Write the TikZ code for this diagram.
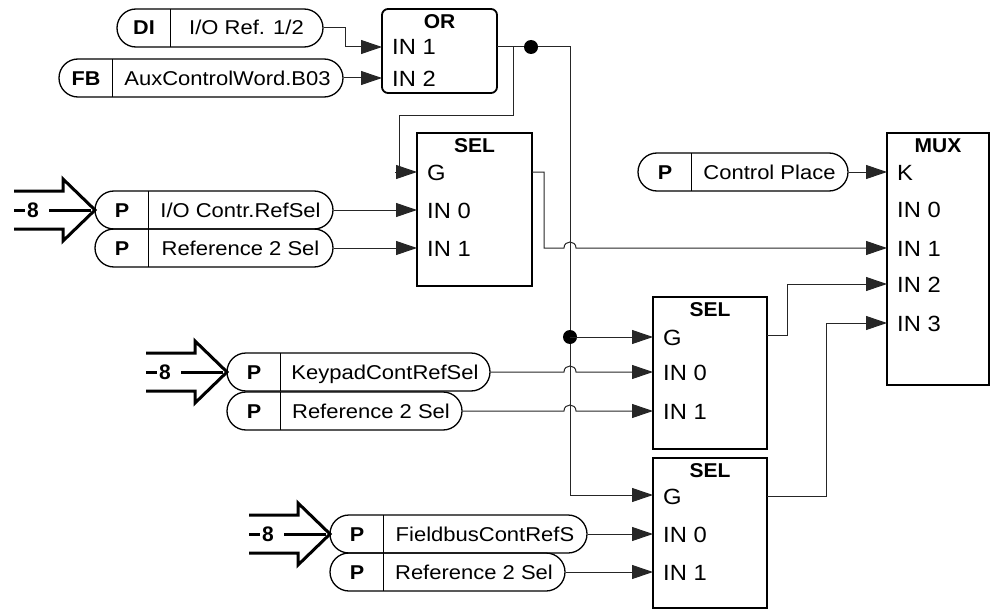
\documentclass[tikz,border=0pt]{standalone}
\usepackage{fontspec}
\setmainfont{Liberation Sans}
\usetikzlibrary{arrows.meta}
\newcommand{\pillnode}[6]{% name, left, right, y, tag, text
  \node[pillb, minimum width={(#3-#2)*1pt}] (#1) at ({(#2+#3)/2},#4) {};
  \draw[pilldiv] ({#2+53},{#4-19}) -- ({#2+53},{#4+19});
  \node[ptag] (#1-tag) at ({#2+27},{#4+7}) {#5};
  \node[ptxt] (#1-txt) at ({(#2+53+#3)/2},{#4+7}) {#6};
}
\newcommand{\busarrow}[3]{% name, tip x, tip y
  \draw[hollow] ({#2-81},{#3-19}) -- ({#2-32},{#3-19}) -- ({#2-32},{#3-31}) -- (#2,#3)
     -- ({#2-32},{#3+31}) -- ({#2-32},{#3+19}) -- ({#2-81},{#3+19});
  \node[eight] (#1) at ({#2-62},#3) {8};
  \draw[hollowin] ({#2-81},#3) -- ({#2-70},#3);
  \draw[hollowin] ({#2-46},#3) -- ({#2-4},#3);
}
\begin{document}
\begin{tikzpicture}[x=1pt,y=-1pt,
  wire/.style={line width=1pt, black!85},
  arr/.style={wire, -{Triangle[length=21pt,width=14pt]}},
  blk/.style={draw, line width=1.8pt, inner sep=0, fill=white},
  pillb/.style={draw, line width=1.3pt, rounded corners=19pt, inner sep=0, minimum height=38pt},
  pilldiv/.style={line width=1pt},
  lbl/.style={inner sep=0, anchor=base west, font=\fontsize{22}{22}\selectfont, xscale=1.08},
  ttl/.style={inner sep=0, anchor=base, font=\bfseries\fontsize{20}{20}\selectfont, xscale=1.05},
  ptxt/.style={inner sep=0, anchor=base, font=\fontsize{20}{20}\selectfont, xscale=1.1},
  ptag/.style={inner sep=0, anchor=base, font=\bfseries\fontsize{20}{20}\selectfont, xscale=1.08},
  hollow/.style={line width=3pt, line join=miter},
  hollowin/.style={line width=3pt},
  eight/.style={inner sep=0, font=\bfseries\fontsize{21}{21}\selectfont},
  dotn/.style={circle, fill=black, inner sep=0, minimum size=14pt}
]
\useasboundingbox (0,0) rectangle (991,610);

% ---------- blocks ----------
\node[blk, rounded corners=6pt, minimum width=115pt, minimum height=84pt] (or) at (439.5,51) {};
\node[ttl] (or-t) at (439.5,29) {OR};
\node[lbl] (or-l1) at (392,55) {IN 1};
\node[lbl] (or-l2) at (392,86) {IN 2};
\coordinate (or-1) at (382,47);
\coordinate (or-2) at (382,78);
\coordinate (or-out) at (497,47);

\node[blk, minimum width=115pt, minimum height=153pt] (sel1) at (474.5,209.5) {};
\node[ttl] (sel1-t) at (474.5,152) {SEL};
\node[lbl] (sel1-lg) at (427,180) {G};
\node[lbl] (sel1-l0) at (427,218) {IN 0};
\node[lbl] (sel1-l1) at (427,256) {IN 1};
\coordinate (sel1-G) at (417,172);
\coordinate (sel1-0) at (417,210);
\coordinate (sel1-1) at (417,248);
\coordinate (sel1-out) at (532,172);

\node[blk, minimum width=114pt, minimum height=152pt] (sel2) at (710,373) {};
\node[ttl] (sel2-t) at (710,316) {SEL};
\node[lbl] (sel2-lg) at (663,345) {G};
\node[lbl] (sel2-l0) at (663,380) {IN 0};
\node[lbl] (sel2-l1) at (663,419) {IN 1};
\coordinate (sel2-G) at (653,337);
\coordinate (sel2-0) at (653,372);
\coordinate (sel2-1) at (653,411);
\coordinate (sel2-out) at (767,335);

\node[blk, minimum width=114pt, minimum height=150pt] (sel3) at (710,533) {};
\node[ttl] (sel3-t) at (710,477) {SEL};
\node[lbl] (sel3-lg) at (663,504) {G};
\node[lbl] (sel3-l0) at (663,542) {IN 0};
\node[lbl] (sel3-l1) at (663,580) {IN 1};
\coordinate (sel3-G) at (653,495);
\coordinate (sel3-0) at (653,534);
\coordinate (sel3-1) at (653,572);
\coordinate (sel3-out) at (767,496);

\node[blk, minimum width=102pt, minimum height=252pt] (mux) at (938,259) {};
\node[ttl] (mux-t) at (938,152) {MUX};
\node[lbl] (mux-lk) at (897,180) {K};
\node[lbl] (mux-l0) at (897,217) {IN 0};
\node[lbl] (mux-l1) at (897,256) {IN 1};
\node[lbl] (mux-l2) at (897,292) {IN 2};
\node[lbl] (mux-l3) at (897,331) {IN 3};
\coordinate (mux-K) at (887,172);
\coordinate (mux-1) at (887,248);
\coordinate (mux-2) at (887,284);
\coordinate (mux-3) at (887,323);

% ---------- pills ----------
\pillnode{di}{117}{323}{28}{DI}{I/O Ref. 1/2}
\pillnode{fb}{59}{343}{78}{FB}{AuxControlWord.B03}
\pillnode{pio}{95}{333}{210}{P}{I/O Contr.RefSel}
\pillnode{pra}{95}{333}{248}{P}{Reference 2 Sel}
\pillnode{pkp}{227}{490}{372}{P}{KeypadContRefSel}
\pillnode{prb}{227}{462}{411}{P}{Reference 2 Sel}
\pillnode{pfb}{330}{587}{534}{P}{FieldbusContRefS}
\pillnode{prc}{330}{565}{572}{P}{Reference 2 Sel}
\pillnode{pcp}{638}{848}{172}{P}{Control Place}

% ---------- bus arrows ----------
\busarrow{b1}{95}{210}
\busarrow{b2}{227}{372}
\busarrow{b3}{330}{534}

% ---------- connectors ----------
\coordinate (bus-top) at (570,47);
\coordinate (bus-bot) at (570,495);
\coordinate (br1) at (513,47);

\draw[arr] (di.east) -- (345,28) |- (or-1);
\draw[arr] (fb.east) -- (or-2);
\draw[arr] (or-out) -- (bus-top) -- (bus-bot) -- (sel3-G);
\node[dotn] (dot1) at (531,47) {};
\draw[wire] (br1) -- (513,115) -- (399,115) -- (399,172);
\draw[arr] (395,172) -- (sel1-G);

\draw[arr] (pio.east) -- (sel1-0);
\draw[arr] (pra.east) -- (sel1-1);

\draw[arr] (sel1-out) -- (544,172) -- (544,248) -- (564,248)
   .. controls (564,240) and (576,240) .. (576,248) -- (mux-1);
\draw[arr] (pcp.east) -- (mux-K);

\node[dotn] (dot2) at (570,337) {};
\draw[arr] (dot2.center) -- (sel2-G);
\draw[arr] (pkp.east) -- (564,372) .. controls (564,364) and (576,364) .. (576,372) -- (sel2-0);
\draw[arr] (prb.east) -- (564,411) .. controls (564,403) and (576,403) .. (576,411) -- (sel2-1);

\draw[arr] (pfb.east) -- (sel3-0);
\draw[arr] (prc.east) -- (sel3-1);

\draw[arr] (sel2-out) -- (787,335) -- (787,284) -- (mux-2);
\draw[arr] (sel3-out) -- (826,496) -- (826,323) -- (mux-3);
\end{tikzpicture}
\end{document}
